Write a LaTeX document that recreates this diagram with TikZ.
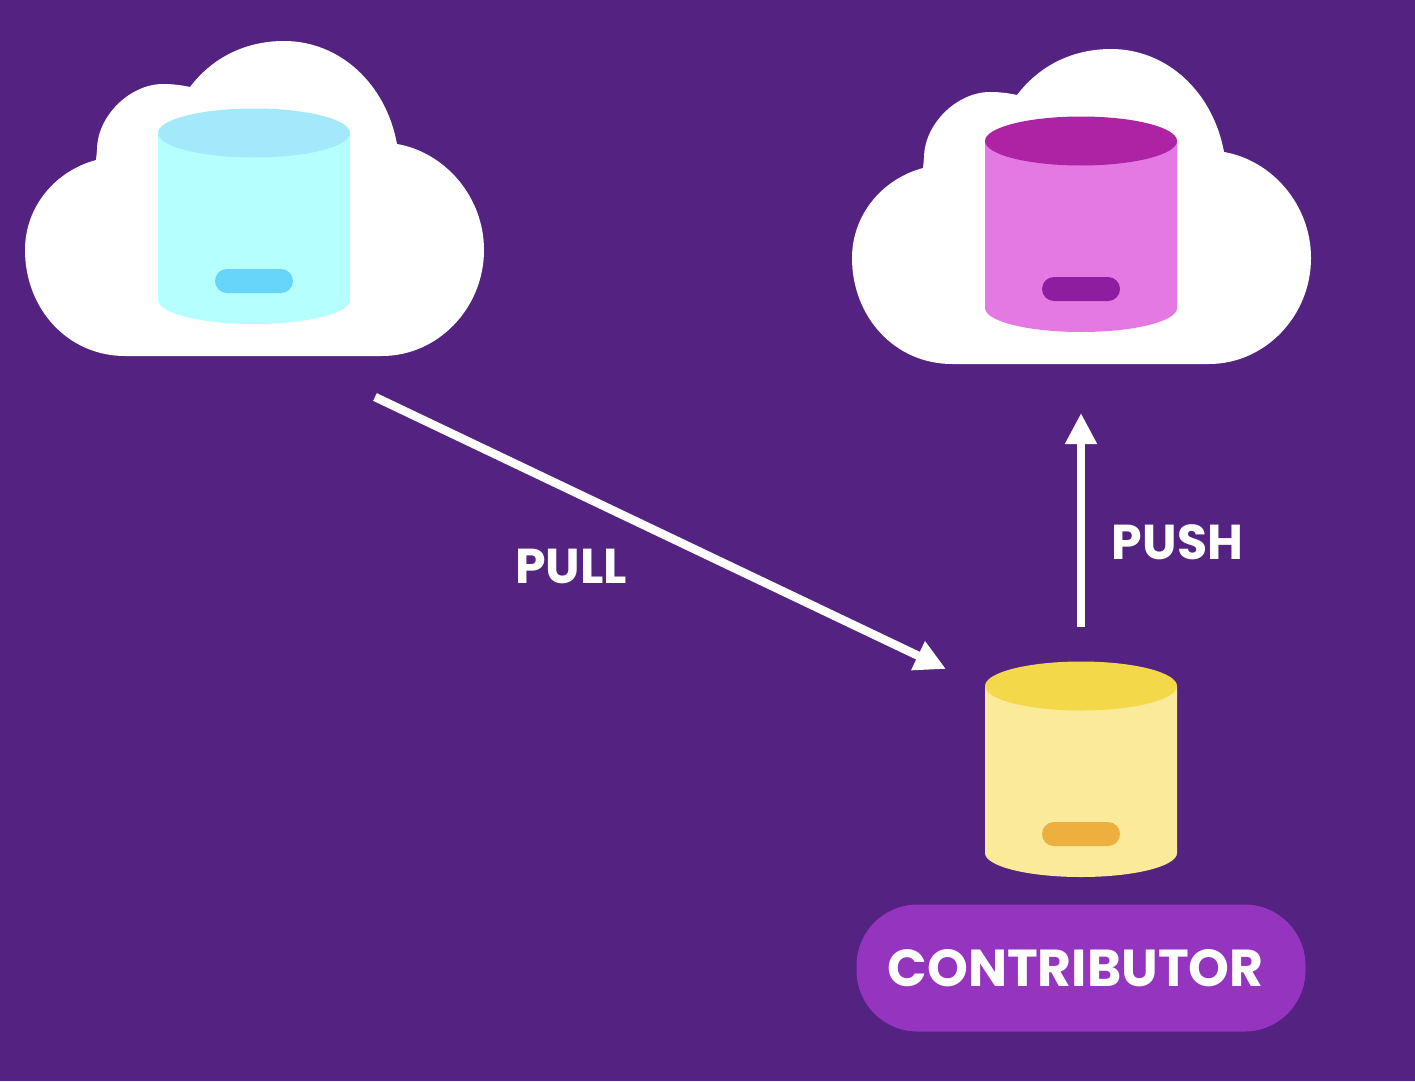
\documentclass[tikz,border=0pt]{standalone}
\usepackage{fontspec}
\setmainfont{Poppins}[BoldFont={Poppins Bold}]
\usetikzlibrary{arrows.meta}
\definecolor{bgp}{HTML}{542281}
\definecolor{cyb}{HTML}{B5FFFF}
\definecolor{cyt}{HTML}{A3E9FB}
\definecolor{cyd}{HTML}{66D5F9}
\definecolor{mab}{HTML}{E479E3}
\definecolor{mat}{HTML}{AE23A3}
\definecolor{mad}{HTML}{8E1D9F}
\definecolor{yeb}{HTML}{FAEA9A}
\definecolor{yet}{HTML}{F3D84A}
\definecolor{yed}{HTML}{EDB03F}
\definecolor{pil}{HTML}{9535BF}
\tikzset{
  x=1pt,y=-1pt,
  lab/.style={text=white,font=\bfseries\fontsize{49}{52}\selectfont,inner sep=0pt},
  conn/.style={draw=white,line width=8.5pt,-{Triangle[length=31pt,width=30pt,fill=white]}}
}
\newcommand{\cloudat}[2]{%
 \fill[white,shift={(#1,#2)}]
   (125,356) -- (382,356)
   .. controls (438,356) and (484,308) .. (484,250)
   .. controls (484,196) and (444,152) .. (397,144)
   .. controls (386,84) and (340,41) .. (284,41)
   .. controls (245,41) and (212,58) .. (190,87)
   .. controls (181,85) and (172,84) .. (163,84)
   .. controls (130,84) and (97,116) .. (97,150)
   -- (96,160)
   .. controls (55,171) and (25,207) .. (25,250)
   .. controls (25,309) and (68,356) .. (125,356) -- cycle;}
\newcommand{\dbat}[5]{%
 \begin{scope}[shift={(#1,#2)}]
  \fill[#3] (158,133) -- (158,300) .. controls (158,313.3) and (201,324) .. (254,324)
     .. controls (307,324) and (350,313.3) .. (350,300) -- (350,133) -- cycle;
  \fill[#4] (254,133) ellipse [x radius=96,y radius=24.5];
  \fill[#5,rounded corners=12pt] (215,269) rectangle (293,293);
 \end{scope}}
\begin{document}
\begin{tikzpicture}
\useasboundingbox (0,0) rectangle (1415,1081);
\fill[bgp] (0,0) rectangle (1415,1081);
\cloudat{0}{0}
\cloudat{827}{8}
\dbat{0}{0}{cyb}{cyt}{cyd}
\dbat{827}{8}{mab}{mat}{mad}
\dbat{827}{553}{yeb}{yet}{yed}
\node[minimum width=449,minimum height=127,rounded corners=61,fill=pil,inner sep=0,anchor=center] (pill) at (1081,968) {};
\node[text=white,font=\bfseries\fontsize{52}{55}\selectfont,inner sep=0pt] (contrib) at (1075.5,968) {CONTRIBUTOR};
\node[lab] (pull) at (571,566) {PULL};
\node[lab] (push) at (1177.5,542) {PUSH};
\coordinate (a1) at (375,397);
\coordinate (a2) at (946,669);
\coordinate (b1) at (1081,627);
\coordinate (b2) at (1081,413);
\draw[conn] (a1) -- (a2);
\draw[conn] (b1) -- (b2);
\end{tikzpicture}
\end{document}
